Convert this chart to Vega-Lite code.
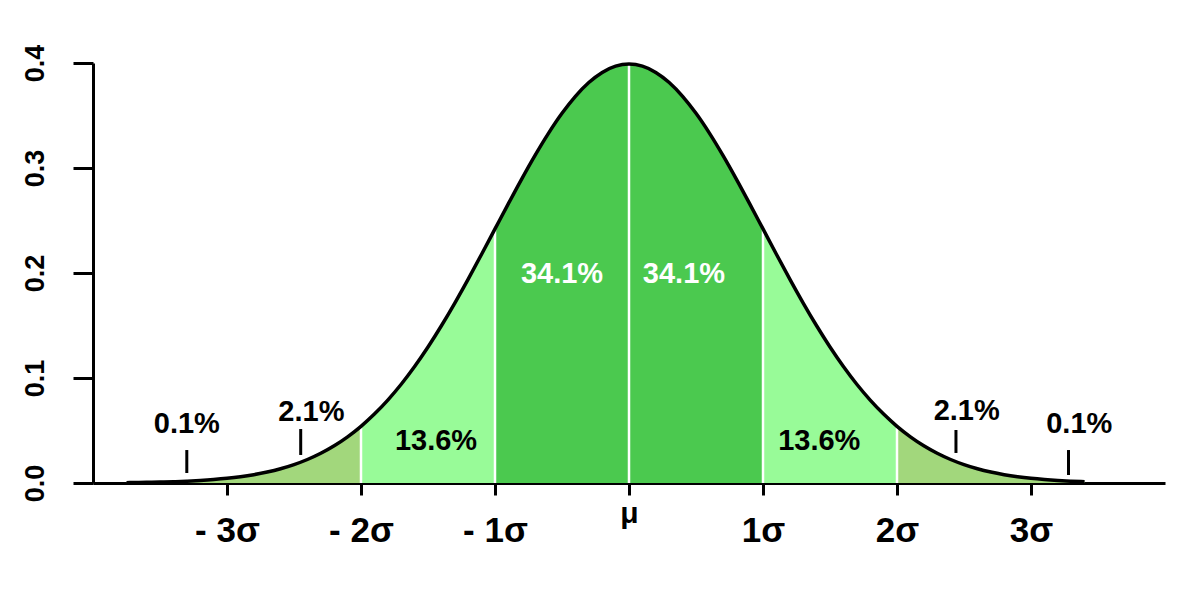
{
  "$schema": "https://vega.github.io/schema/vega-lite/v6.json",
  "width": 1072,
  "height": 420,
  "autosize": "none",
  "padding": {"left": 93, "top": 63, "right": 35, "bottom": 117},
  "background": "white",
  "config": {"view": {"stroke": null}, "font": "Liberation Sans"},
  "datasets": {
    "curve": [
      {"x": -3.75, "y": 0.00035, "s": "t1"},
      {"x": -3.7, "y": 0.00042, "s": "t1"},
      {"x": -3.6, "y": 0.00061, "s": "t1"},
      {"x": -3.5, "y": 0.00087, "s": "t1"},
      {"x": -3.4, "y": 0.00123, "s": "t1"},
      {"x": -3.3, "y": 0.00172, "s": "t1"},
      {"x": -3.2, "y": 0.00238, "s": "t1"},
      {"x": -3.1, "y": 0.00327, "s": "t1"},
      {"x": -3.0, "y": 0.00443, "s": "t1"},
      {"x": -2.9, "y": 0.00595, "s": "t1"},
      {"x": -2.8, "y": 0.00792, "s": "t1"},
      {"x": -2.7, "y": 0.01042, "s": "t1"},
      {"x": -2.6, "y": 0.01358, "s": "t1"},
      {"x": -2.5, "y": 0.01753, "s": "t1"},
      {"x": -2.4, "y": 0.02239, "s": "t1"},
      {"x": -2.3, "y": 0.02833, "s": "t1"},
      {"x": -2.2, "y": 0.03547, "s": "t1"},
      {"x": -2.1, "y": 0.04398, "s": "t1"},
      {"x": -2.0, "y": 0.05399, "s": "t1"},
      {"x": -2.0, "y": 0.05399, "s": "m1"},
      {"x": -1.9, "y": 0.06562, "s": "m1"},
      {"x": -1.8, "y": 0.07895, "s": "m1"},
      {"x": -1.7, "y": 0.09405, "s": "m1"},
      {"x": -1.6, "y": 0.11092, "s": "m1"},
      {"x": -1.5, "y": 0.12952, "s": "m1"},
      {"x": -1.4, "y": 0.14973, "s": "m1"},
      {"x": -1.3, "y": 0.17137, "s": "m1"},
      {"x": -1.2, "y": 0.19419, "s": "m1"},
      {"x": -1.1, "y": 0.21785, "s": "m1"},
      {"x": -1.0, "y": 0.24197, "s": "m1"},
      {"x": -1.0, "y": 0.24197, "s": "c"},
      {"x": -0.9, "y": 0.26609, "s": "c"},
      {"x": -0.8, "y": 0.28969, "s": "c"},
      {"x": -0.7, "y": 0.31225, "s": "c"},
      {"x": -0.6, "y": 0.33322, "s": "c"},
      {"x": -0.5, "y": 0.35207, "s": "c"},
      {"x": -0.4, "y": 0.36827, "s": "c"},
      {"x": -0.3, "y": 0.38139, "s": "c"},
      {"x": -0.2, "y": 0.39104, "s": "c"},
      {"x": -0.1, "y": 0.39695, "s": "c"},
      {"x": 0.0, "y": 0.39894, "s": "c"},
      {"x": 0.1, "y": 0.39695, "s": "c"},
      {"x": 0.2, "y": 0.39104, "s": "c"},
      {"x": 0.3, "y": 0.38139, "s": "c"},
      {"x": 0.4, "y": 0.36827, "s": "c"},
      {"x": 0.5, "y": 0.35207, "s": "c"},
      {"x": 0.6, "y": 0.33322, "s": "c"},
      {"x": 0.7, "y": 0.31225, "s": "c"},
      {"x": 0.8, "y": 0.28969, "s": "c"},
      {"x": 0.9, "y": 0.26609, "s": "c"},
      {"x": 1.0, "y": 0.24197, "s": "c"},
      {"x": 1.0, "y": 0.24197, "s": "m2"},
      {"x": 1.1, "y": 0.21785, "s": "m2"},
      {"x": 1.2, "y": 0.19419, "s": "m2"},
      {"x": 1.3, "y": 0.17137, "s": "m2"},
      {"x": 1.4, "y": 0.14973, "s": "m2"},
      {"x": 1.5, "y": 0.12952, "s": "m2"},
      {"x": 1.6, "y": 0.11092, "s": "m2"},
      {"x": 1.7, "y": 0.09405, "s": "m2"},
      {"x": 1.8, "y": 0.07895, "s": "m2"},
      {"x": 1.9, "y": 0.06562, "s": "m2"},
      {"x": 2.0, "y": 0.05399, "s": "m2"},
      {"x": 2.0, "y": 0.05399, "s": "t2"},
      {"x": 2.1, "y": 0.04398, "s": "t2"},
      {"x": 2.2, "y": 0.03547, "s": "t2"},
      {"x": 2.3, "y": 0.02833, "s": "t2"},
      {"x": 2.4, "y": 0.02239, "s": "t2"},
      {"x": 2.5, "y": 0.01753, "s": "t2"},
      {"x": 2.6, "y": 0.01358, "s": "t2"},
      {"x": 2.7, "y": 0.01042, "s": "t2"},
      {"x": 2.8, "y": 0.00792, "s": "t2"},
      {"x": 2.9, "y": 0.00595, "s": "t2"},
      {"x": 3.0, "y": 0.00443, "s": "t2"},
      {"x": 3.1, "y": 0.00327, "s": "t2"},
      {"x": 3.2, "y": 0.00238, "s": "t2"},
      {"x": 3.3, "y": 0.00172, "s": "t2"},
      {"x": 3.4, "y": 0.00123, "s": "t2"}
    ],
    "vlines": [
      {"x": -2, "y": 0.05399},
      {"x": -1, "y": 0.24197},
      {"x": 0, "y": 0.39894},
      {"x": 1, "y": 0.24197},
      {"x": 2, "y": 0.05399}
    ],
    "labels": [
      {"x": -3.30, "y": 0.0562, "label": "0.1%"},
      {"x": -2.37, "y": 0.0676, "label": "2.1%"},
      {"x": -1.44, "y": 0.040, "label": "13.6%"},
      {"x": -0.50, "y": 0.199, "label": "34.1%"},
      {"x": 0.41, "y": 0.199, "label": "34.1%"},
      {"x": 1.42, "y": 0.040, "label": "13.6%"},
      {"x": 2.52, "y": 0.0686, "label": "2.1%"},
      {"x": 3.36, "y": 0.0562, "label": "0.1%"}
    ],
    "pointers": [
      {"x": -3.30, "y": 0.0095, "y2": 0.0314},
      {"x": -2.45, "y": 0.0267, "y2": 0.0514},
      {"x": 2.44, "y": 0.0286, "y2": 0.0505},
      {"x": 3.28, "y": 0.0076, "y2": 0.0314}
    ]
  },
  "layer": [
    {
      "data": {"name": "curve"},
      "mark": {"type": "area", "interpolate": "monotone"},
      "encoding": {
        "x": {
          "field": "x", "type": "quantitative",
          "scale": {"domain": [-4, 4], "nice": false, "zero": false},
          "axis": {
            "values": [-3, -2, -1, 0, 1, 2, 3],
            "title": null,
            "grid": false,
            "domainColor": "black",
            "domainWidth": 3,
            "tickColor": "black",
            "tickWidth": 3,
            "tickSize": 12,
            "labelFont": "Liberation Sans",
            "labelFontWeight": "bold",
            "labelColor": "black",
            "labelFontSize": {"condition": {"test": "datum.value == 0", "value": 30}, "value": 35},
            "labelPadding": 18,
            "labelBaseline": {"condition": {"test": "datum.value == 0", "value": "middle"}, "value": "top"},
            "labelExpr": "datum.value == 0 ? 'μ' : (datum.value < 0 ? '- ' + abs(datum.value) + 'σ' : datum.value + 'σ')"
          }
        },
        "y": {
          "field": "y", "type": "quantitative", "stack": null,
          "scale": {"domain": [0, 0.4], "nice": false},
          "axis": {
            "values": [0, 0.1, 0.2, 0.3, 0.4],
            "format": ".1f",
            "title": null,
            "grid": false,
            "domainColor": "black",
            "domainWidth": 3,
            "tickColor": "black",
            "tickWidth": 3,
            "tickSize": 20,
            "labelFont": "Liberation Sans",
            "labelFontWeight": "bold",
            "labelFontSize": 27,
            "labelColor": "black",
            "labelAngle": -90,
            "labelAlign": "center",
            "labelBaseline": "bottom",
            "labelPadding": 24
          }
        },
        "color": {
          "field": "s", "type": "nominal", "legend": null,
          "scale": {"domain": ["t1", "m1", "c", "m2", "t2"], "range": ["#a2d77c", "#98fb98", "#4bc94f", "#98fb98", "#a2d77c"]}
        }
      }
    },
    {
      "data": {"name": "vlines"},
      "mark": {"type": "rule", "color": "white", "strokeWidth": 2.5},
      "encoding": {
        "x": {"field": "x", "type": "quantitative"},
        "y": {"field": "y", "type": "quantitative"},
        "y2": {"datum": 0}
      }
    },
    {
      "data": {"name": "curve"},
      "mark": {"type": "line", "interpolate": "monotone", "color": "black", "strokeWidth": 3.5},
      "encoding": {
        "x": {"field": "x", "type": "quantitative"},
        "y": {"field": "y", "type": "quantitative"}
      }
    },
    {
      "data": {"name": "pointers"},
      "mark": {"type": "rule", "color": "black", "strokeWidth": 3},
      "encoding": {
        "x": {"field": "x", "type": "quantitative"},
        "y": {"field": "y", "type": "quantitative"},
        "y2": {"field": "y2"}
      }
    },
    {
      "data": {"name": "labels"},
      "mark": {"type": "text", "font": "Liberation Sans", "fontWeight": "bold", "fontSize": 29, "align": "center", "baseline": "middle"},
      "encoding": {
        "x": {"field": "x", "type": "quantitative"},
        "y": {"field": "y", "type": "quantitative"},
        "text": {"field": "label"},
        "color": {"condition": {"test": "datum.label == '34.1%'", "value": "white"}, "value": "black"}
      }
    }
  ]
}
